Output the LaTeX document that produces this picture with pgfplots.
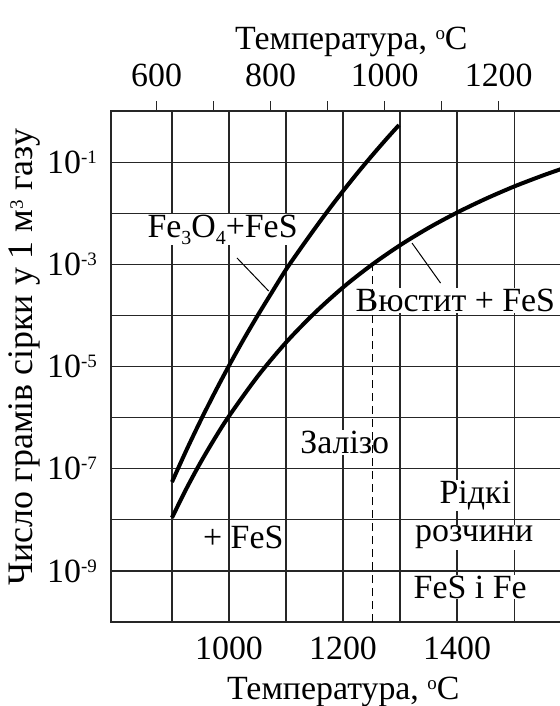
\documentclass[border=0pt]{standalone}
\usepackage{fontspec}
\setmainfont{Liberation Serif}
\usepackage{pgfplots}
\pgfplotsset{compat=1.18}
\newcommand{\fs}{\fontsize{34}{40}\selectfont}
\newcommand{\supr}[1]{\raisebox{10bp}{\fontsize{19}{20}\selectfont #1}}
\newcommand{\subr}[1]{\raisebox{-7bp}{\fontsize{20}{20}\selectfont #1}}
\begin{document}
\begin{tikzpicture}
\useasboundingbox (-111bp,-84bp) rectangle (449bp,622bp);
\begin{axis}[
  scale only axis, width=451bp, height=511bp,
  xmin=793, xmax=1584,
  ymode=log, ymin=1e-10, ymax=1,
  axis line style={line width=1.2bp, black!85},
  xtick={900,1000,1100,1200,1300,1400,1500},
  xticklabels={,1000,,1200,,1400,},
  ytick={1e-9,1e-8,1e-7,1e-6,1e-5,1e-4,1e-3,1e-2,1e-1},
  yticklabels={10\supr{-9},,10\supr{-7},,10\supr{-5},,10\supr{-3},,10\supr{-1}},
  yminorticks=false, xminorticks=false,
  major tick length=0pt,
  grid=major, major grid style={line width=1.2bp, black!85},
  tick label style={font=\fs},
  xticklabel style={anchor=base, inner sep=0pt, yshift=-37bp},
  yticklabel style={anchor=east, inner sep=0pt, xshift=-14bp},
  xlabel={Температура, \supr{o}C},
  every axis x label/.style={at={(axis description cs:0.515,-0.1526)}, anchor=base, font=\fs},
  ylabel={Число грамів сірки у 1 м\supr{3} газу},
  every axis y label/.style={at={(axis description cs:-0.1907,0.518)}, rotate=90, anchor=center, font=\fontsize{36}{40}\selectfont},
]
% Fe3O4 + FeS boundary
\addplot[line width=4bp, black, smooth] coordinates {
  (900,5.50e-8) (925,2.27e-7) (950,8.69e-7) (975,3.10e-6) (1000,1.04e-5)
  (1025,3.30e-5) (1050,9.86e-5) (1075,2.81e-4) (1100,7.9e-4) (1125,2.0e-3)
  (1150,4.92e-3) (1175,1.18e-2) (1200,2.72e-2) (1225,6.07e-2) (1250,0.131)
  (1275,0.275) (1298,0.530)};
% Wustite + FeS boundary
\addplot[line width=4bp, black, smooth] coordinates {
  (900,1.10e-8) (925,4.02e-8) (950,1.32e-7) (975,3.92e-7) (1000,1.07e-6)
  (1050,6.37e-6) (1100,2.96e-5) (1150,1.11e-4) (1200,3.54e-4) (1250,9.70e-4)
  (1300,2.36e-3) (1350,5.16e-3) (1400,1.03e-2) (1450,1.91e-2) (1500,3.33e-2)
  (1550,5.45e-2) (1584,7.41e-2)};
% leader lines
\addplot[line width=1bp, black] coordinates {(1014,1.33e-3) (1069.5,3.0e-4)};
\addplot[line width=1bp, black] coordinates {(1321,2.6e-3) (1371,4.3e-4)};
\node[font=\fs, anchor=base, fill=white, inner sep=1bp] at (axis cs:1203,2.0e-7) {Залізо};
\node[font=\fs, anchor=base, fill=white, inner sep=1bp] at (axis cs:988.7,3.4e-3) {Fe\subr{3}O\subr{4}+FeS};
\node[font=\fs, anchor=base, fill=white, inner sep=1bp] at (axis cs:1397,1.17e-4) {Вюстит + FeS};
\node[font=\fs, anchor=base, fill=white, inner sep=1bp] at (axis cs:1432,2.1e-8) {Рідкі};
\node[font=\fs, anchor=base, fill=white, inner sep=1bp] at (axis cs:1430,3.7e-9) {розчини};
\node[font=\fs, anchor=base, fill=white, inner sep=1bp] at (axis cs:1423,2.95e-10) {FeS і Fe};
\node[font=\fs, anchor=base, inner sep=1bp] at (axis cs:1025,2.8e-9) {+ FeS};
\end{axis}
\begin{axis}[
  scale only axis, width=451bp, height=511bp,
  xmin=520, xmax=1311,
  ymode=log, ymin=1e-10, ymax=1,
  axis x line*=top, hide y axis,
  axis line style={line width=1.2bp, black!85},
  xtick={600,700,800,900,1000,1100,1200},
  xticklabels={600,,800,,1000,,1200},
  xminorticks=false,
  tick align=outside, major tick length=10bp,
  tick style={line width=1.2bp, black!85},
  tick label style={font=\fs},
  xticklabel style={anchor=base, inner sep=0pt, yshift=15bp},
  xlabel={Температура, \supr{o}C},
  every axis x label/.style={at={(axis description cs:0.533,1.1194)}, anchor=base, font=\fs},
]
% dashed line (978 C = 1251 K)
\addplot[line width=1.2bp, black, dash pattern=on 8bp off 5bp] coordinates {(978,1e-10) (978,9.5e-4)};
\end{axis}
\end{tikzpicture}
\end{document}
